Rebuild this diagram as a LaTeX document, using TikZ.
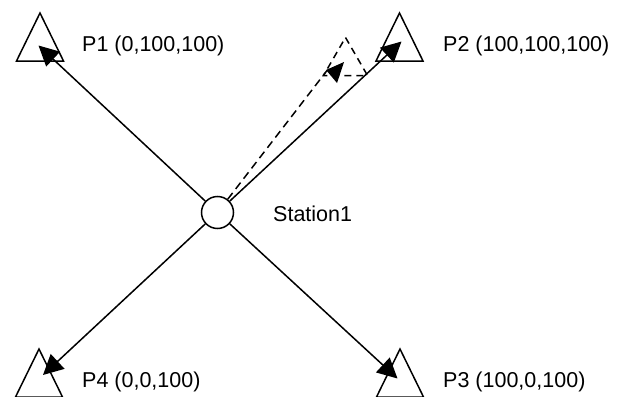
\documentclass[tikz,border=0pt]{standalone}
\usepackage{fontspec}
\setmainfont{Liberation Sans}
\usetikzlibrary{arrows.meta}
\begin{document}
\begin{tikzpicture}[x=1pt,y=-1pt,
  conn/.style={line width=1.5pt,-{Triangle[length=20pt,width=20pt]}},
  dashline/.style={line width=1.5pt,dash pattern=on 8pt off 5pt},
  lbl/.style={anchor=base west,inner sep=0pt,font=\fontsize{21.5}{25}\selectfont},
  tri/.style={line width=1.5pt,line join=miter}]
\useasboundingbox (0,0) rectangle (620,396);
\clip (0,0) rectangle (620,396);
% targets (triangles)
\draw[tri] (40,13) -- (63.5,61) -- (16.5,61) -- cycle;
\draw[tri] (399.5,13) -- (423,61) -- (376,61) -- cycle;
\draw[tri] (39,349) -- (62.5,397) -- (15.5,397) -- cycle;
\draw[tri] (400,349) -- (423.5,397) -- (376.5,397) -- cycle;
\draw[tri,dash pattern=on 7pt off 5pt] (345.5,37.5) -- (367.5,75.5) -- (323.5,75.5) -- cycle;
% station
\node[draw,line width=1.5pt,circle,minimum size=32pt,inner sep=0pt] (st) at (217.5,212.5) {};
\node[lbl] (s1) at (273,221) {Station1};
% labels
\node[lbl] (l1) at (82,52) {P1 (0,100,100)};
\node[lbl] (l2) at (443,52) {P2 (100,100,100)};
\node[lbl] (l3) at (443,387) {P3 (100,0,100)};
\node[lbl] (l4) at (82,387) {P4 (0,0,100)};
% tip coordinates
\coordinate (t1) at (38.5,45.5);
\coordinate (t2) at (401.5,41.5);
\coordinate (t3) at (397.5,378.5);
\coordinate (t4) at (43,375);
\coordinate (td) at (327,70.5);
% connectors
\draw[conn] (st) -- (t1);
\draw[conn] (st) -- (t2);
\draw[conn] (st) -- (t3);
\draw[conn] (st) -- (t4);
\draw[dashline] (st) -- (td);
\fill (326,70) -- (344,62) -- (337,83) -- cycle;
\end{tikzpicture}
\end{document}
